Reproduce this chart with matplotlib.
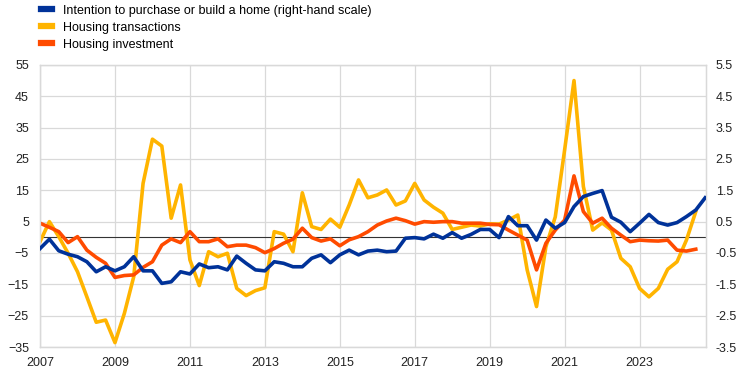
import numpy as np
import matplotlib.pyplot as plt
from matplotlib.lines import Line2D

plt.rcParams['font.family'] = ['Liberation Sans', 'DejaVu Sans']

# quarterly data, 2007Q1 onwards
start_year = 2007

# intention to purchase or build a home (right-hand scale)
intention = [-0.36, -0.06, -0.43, -0.54, -0.62, -0.78, -1.10, -0.94, -1.07, -0.94,
             -0.62, -1.07, -1.07, -1.47, -1.42, -1.10, -1.17, -0.85, -0.97, -0.94,
             -1.04, -0.60, -0.83, -1.04, -1.07, -0.78, -0.83, -0.94, -0.94, -0.67,
             -0.56, -0.81, -0.56, -0.41, -0.56, -0.44, -0.41, -0.46, -0.44, -0.03,
             -0.01, -0.05, 0.10, -0.03, 0.15, -0.03, 0.09, 0.25, 0.25, -0.01,
             0.66, 0.37, 0.37, -0.09, 0.55, 0.29, 0.47, 0.98, 1.30, 1.40,
             1.49, 0.64, 0.48, 0.18, 0.45, 0.73, 0.47, 0.39, 0.47, 0.66,
             0.87, 1.26]

# housing transactions
transactions = [-1.4, 5.0, 0.2, -5.1, -11.0, -19.0, -27.1, -26.4, -33.6, -24.3,
                -12.6, 17.2, 31.3, 29.1, 6.1, 16.7, -7.2, -15.4, -4.6, -6.2,
                -5.1, -16.3, -18.6, -17.0, -16.1, 1.8, 1.0, -4.6, 14.2, 3.4,
                2.5, 5.8, 3.2, 10.3, 18.3, 12.6, 13.5, 15.1, 10.3, 11.6,
                17.2, 11.9, 9.6, 7.7, 2.5, 3.2, 3.9, 3.6, 4.3, 4.2,
                5.5, 7.1, -10.4, -22.1, -3.0, 6.5, 27.9, 50.0, 16.2, 2.3,
                4.6, 2.3, -6.7, -9.4, -16.3, -19.0, -16.3, -10.2, -7.8, -0.9,
                8.2]

# housing investment
investment = [4.5, 3.2, 1.8, -1.7, 0.2, -4.1, -6.4, -8.3, -12.8, -12.2,
              -12.0, -9.6, -7.8, -2.5, -0.5, -1.7, 1.8, -1.4, -1.4, -0.5,
              -3.0, -2.5, -2.5, -3.3, -4.9, -3.6, -1.9, -0.6, 2.9, -0.1,
              -1.2, -0.5, -2.7, -0.8, 0.2, 1.8, 3.9, 5.2, 6.1, 5.3,
              4.2, 5.0, 4.8, 5.0, 5.0, 4.5, 4.5, 4.5, 4.1, 4.0,
              2.3, 0.7, -0.9, -10.4, -1.9, 2.3, 5.5, 19.6, 8.2, 4.5,
              6.1, 2.9, 0.7, -1.4, -0.9, -1.1, -1.2, -0.9, -4.1, -4.4,
              -3.8]

x_blue = start_year + np.arange(len(intention)) / 4
x_yel = start_year + np.arange(len(transactions)) / 4
x_org = start_year + np.arange(len(investment)) / 4

blue = '#003299'
yellow = '#FFB400'
orange = '#FF4B00'
grid_col = '#d9d9d9'

fig = plt.figure(figsize=(7.44, 3.73), dpi=100)
ax = fig.add_axes([0.0538, 0.0697, 0.895, 0.7563])
ax2 = ax.twinx()

ax.set_xlim(2007, 2024.77)
ax.set_ylim(-35, 55)
ax2.set_ylim(-3.5, 5.5)
ax.set_yticks(np.arange(-35, 56, 10))
ax2.set_yticks(np.arange(-3.5, 5.6, 1))
ax2.set_yticklabels([f'{v:.1f}' for v in np.arange(-3.5, 5.6, 1)])
ax.set_xticks(np.arange(2007, 2024, 2))

ax.grid(True, color=grid_col, linewidth=0.9)
ax.set_axisbelow(True)
ax.axhline(0, color='#333333', linewidth=0.8, zorder=2)

ax.plot(x_yel, transactions, color=yellow, linewidth=2.6, zorder=3)
ax.plot(x_org, investment, color=orange, linewidth=2.6, zorder=4)
ax2.plot(x_blue, intention, color=blue, linewidth=2.6, zorder=5)

for a in (ax, ax2):
    for s in a.spines.values():
        s.set_color(grid_col)
        s.set_linewidth(0.9)
    a.tick_params(length=0, labelsize=9, colors='#222222')
ax.tick_params(axis='x', pad=7)
ax.tick_params(axis='y', pad=8)
ax2.tick_params(axis='y', pad=7)

handles = [Line2D([], [], color=blue, linewidth=4.5),
           Line2D([], [], color=yellow, linewidth=4.5),
           Line2D([], [], color=orange, linewidth=4.5)]
labels = ['Intention to purchase or build a home (right-hand scale)',
          'Housing transactions',
          'Housing investment']
fig.legend(handles, labels, loc='upper left', bbox_to_anchor=(0.045, 1.008),
           frameon=False, fontsize=9, handlelength=0.85, handletextpad=0.9,
           labelspacing=0.41, borderaxespad=0.2)

fig.savefig('out.png', dpi=100)
